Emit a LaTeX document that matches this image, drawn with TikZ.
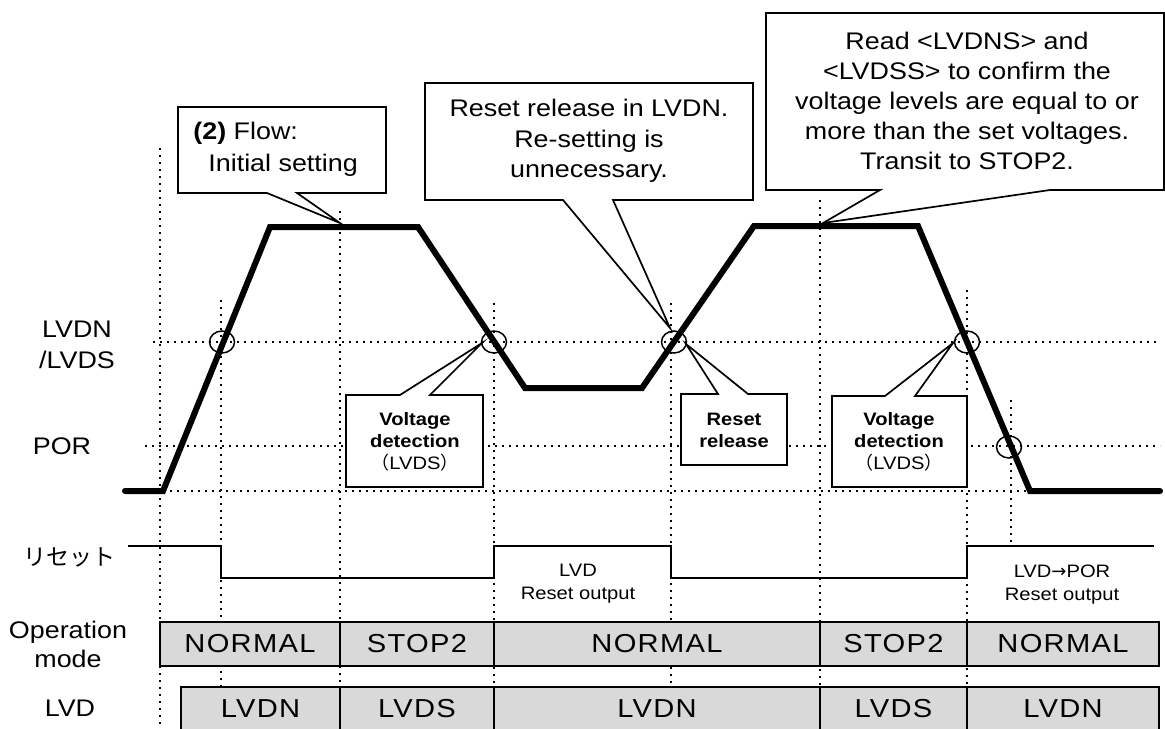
\documentclass[tikz,border=0pt]{standalone}
\usepackage{fontspec}
\setmainfont{Liberation Sans}[FakeStretch=1.12]
\newfontfamily\jpfont{Noto Sans CJK JP}
\newfontfamily\jphalf{Noto Sans CJK JP}[RawFeature=+halt]
\newfontfamily\arrowfont{DejaVu Sans}
\newfontfamily\modefont{Liberation Sans}[FakeStretch=1.12,LetterSpace=5]

\begin{document}
\begin{tikzpicture}[x=0.5pt, y=-0.5pt,
    levelline/.style={line width=1.05pt, dash pattern=on 1.05pt off 2.45pt},
    wave/.style={line width=3pt, line cap=round},
    resetline/.style={line width=0.75pt},
    hit/.style={line width=0.75pt},
    balloon/.style={draw, fill=white, line width=0.85pt},
    modebox/.style={draw, fill=black!15, line width=0.95pt},
    modetext/.style={font=\modefont\fontsize{13}{13}\selectfont, inner sep=0pt},
    lbl/.style={font=\fontsize{12}{15}\selectfont, align=center, inner sep=0pt},
    note/.style={font=\fontsize{9}{11}\selectfont, align=center, inner sep=0pt}]
    \clip (0,0) rectangle (1165,728);

    % 虚线网格
    \draw[levelline] (153,342) -- (1160,342);
    \draw[levelline] (145,446) -- (1160,446);
    \draw[levelline] (163,491) -- (1160,491);
    \draw[levelline] (160,148) -- (160,728);
    \draw[levelline] (221,300) -- (221,728);
    \draw[levelline] (340,211) -- (340,728);
    \draw[levelline] (494,303) -- (494,728);
    \draw[levelline] (671,303) -- (671,728);
    \draw[levelline] (820,200) -- (820,728);
    \draw[levelline] (967,290) -- (967,728);
    \draw[levelline] (1011,400) -- (1011,542);

    % 电源电压波形
    \draw[wave] (125,491) -- (163,491) -- (270,227) -- (418,227) -- (525,388) -- (642,388)
        -- (754,226) -- (918,226) -- (1030,491) -- (1160,491);

    % 说明框
    \draw[balloon] (178,107) -- (386,107) -- (386,193) -- (297,193) -- (340,223) -- (267,193) -- (178,193) -- cycle;
    \draw[balloon] (425,83) -- (753,83) -- (753,200) -- (613,200) -- (670,328) -- (563,200) -- (425,200) -- cycle;
    \draw[balloon] (766,13) -- (1164,13) -- (1164,190) -- (1050,190) -- (823,223) -- (880,190) -- (766,190) -- cycle;
    \draw[balloon] (346,395) -- (400,395) -- (482,343) -- (430,395) -- (483,395) -- (483,487) -- (346,487) -- cycle;
    \draw[balloon] (681,394) -- (718,394) -- (686,344) -- (748,394) -- (787,394) -- (787,465) -- (681,465) -- cycle;
    \draw[balloon] (832,396) -- (885,396) -- (953,343) -- (915,396) -- (967,396) -- (967,487) -- (832,487) -- cycle;

    \node[lbl, anchor=west, align=left, font=\fontsize{12}{16}\selectfont] (flowtxt) at (193,149)
        {\textbf{(2)} Flow:\\\hspace*{7.5pt}Initial setting};
    \node[lbl, font=\fontsize{12}{15.25}\selectfont] (releasetxt) at (589,141)
        {Reset release in LVDN.\\Re-setting is\\unnecessary.};
    \node[lbl, font=\fontsize{12}{15.1}\selectfont] (stoptxt) at (967,101)
        {Read <LVDNS> and\\<LVDSS> to confirm the\\voltage levels are equal to or\\more than the set voltages.\\Transit to STOP2.};
    \node[note] (detect1) at (415,442) {\textbf{Voltage}\\\textbf{detection}\\{\jphalf （}LVDS{\jphalf ）}};
    \node[note] (rstrel) at (734,430) {\textbf{Reset}\\\textbf{release}};
    \node[note] (detect2) at (899,442) {\textbf{Voltage}\\\textbf{detection}\\{\jphalf （}LVDS{\jphalf ）}};

    % 检测点
    \draw[hit] (222,342) ellipse [x radius=6.25pt, y radius=5.5pt];
    \draw[hit] (494,342) ellipse [x radius=6.25pt, y radius=5.5pt];
    \draw[hit] (674,342) ellipse [x radius=6.25pt, y radius=5.5pt];
    \draw[hit] (967,342) ellipse [x radius=6.25pt, y radius=5.5pt];
    \draw[hit] (1009,447) ellipse [x radius=6.25pt, y radius=5.5pt];

    % 复位信号
    \draw[resetline] (128,546) -- (221,546) -- (221,578) -- (494,578) -- (494,546) -- (671,546)
        -- (671,578) -- (967,578) -- (967,546) -- (1154,546);
    \node[note, font=\fontsize{9}{11.5}\selectfont] (lvdout) at (578,584) {LVD\\Reset output};
    \node[note, font=\fontsize{9}{11.5}\selectfont] (porout) at (1062,585) {LVD{\arrowfont →}POR\\Reset output};

    % 工作模式
    \draw[modebox] (160,622) rectangle (340,666) node[modetext, pos=.5] (op1) {NORMAL};
    \draw[modebox] (340,622) rectangle (494,666) node[modetext, pos=.5] (op2) {STOP2};
    \draw[modebox] (494,622) rectangle (820,666) node[modetext, pos=.5] (op3) {NORMAL};
    \draw[modebox] (820,622) rectangle (967,666) node[modetext, pos=.5] (op4) {STOP2};
    \draw[modebox] (967,622) rectangle (1159,666) node[modetext, pos=.5] (op5) {NORMAL};

    % LVD 状态
    \draw[modebox] (181,687) rectangle (340,731) node[modetext, pos=.5] (lvd1) {LVDN};
    \draw[modebox] (340,687) rectangle (494,731) node[modetext, pos=.5] (lvd2) {LVDS};
    \draw[modebox] (494,687) rectangle (820,731) node[modetext, pos=.5] (lvd3) {LVDN};
    \draw[modebox] (820,687) rectangle (967,731) node[modetext, pos=.5] (lvd4) {LVDS};
    \draw[modebox] (967,687) rectangle (1159,731) node[modetext, pos=.5] (lvd5) {LVDN};

    % 左侧标签
    \node[lbl, font=\fontsize{12}{15.5}\selectfont] (lvdnlbl) at (77,345) {LVDN\\/LVDS};
    \node[lbl] (porlbl) at (62,446) {POR};
    \node[lbl, font=\jpfont\fontsize{11.5}{11.5}\selectfont] (rstlbl) at (69,557) {リセット};
    \node[lbl, font=\fontsize{12}{14.5}\selectfont] (oplbl) at (68,644) {Operation\\mode};
    \node[lbl] (lvdlbl) at (70,708) {LVD};
\end{tikzpicture}
\end{document}
